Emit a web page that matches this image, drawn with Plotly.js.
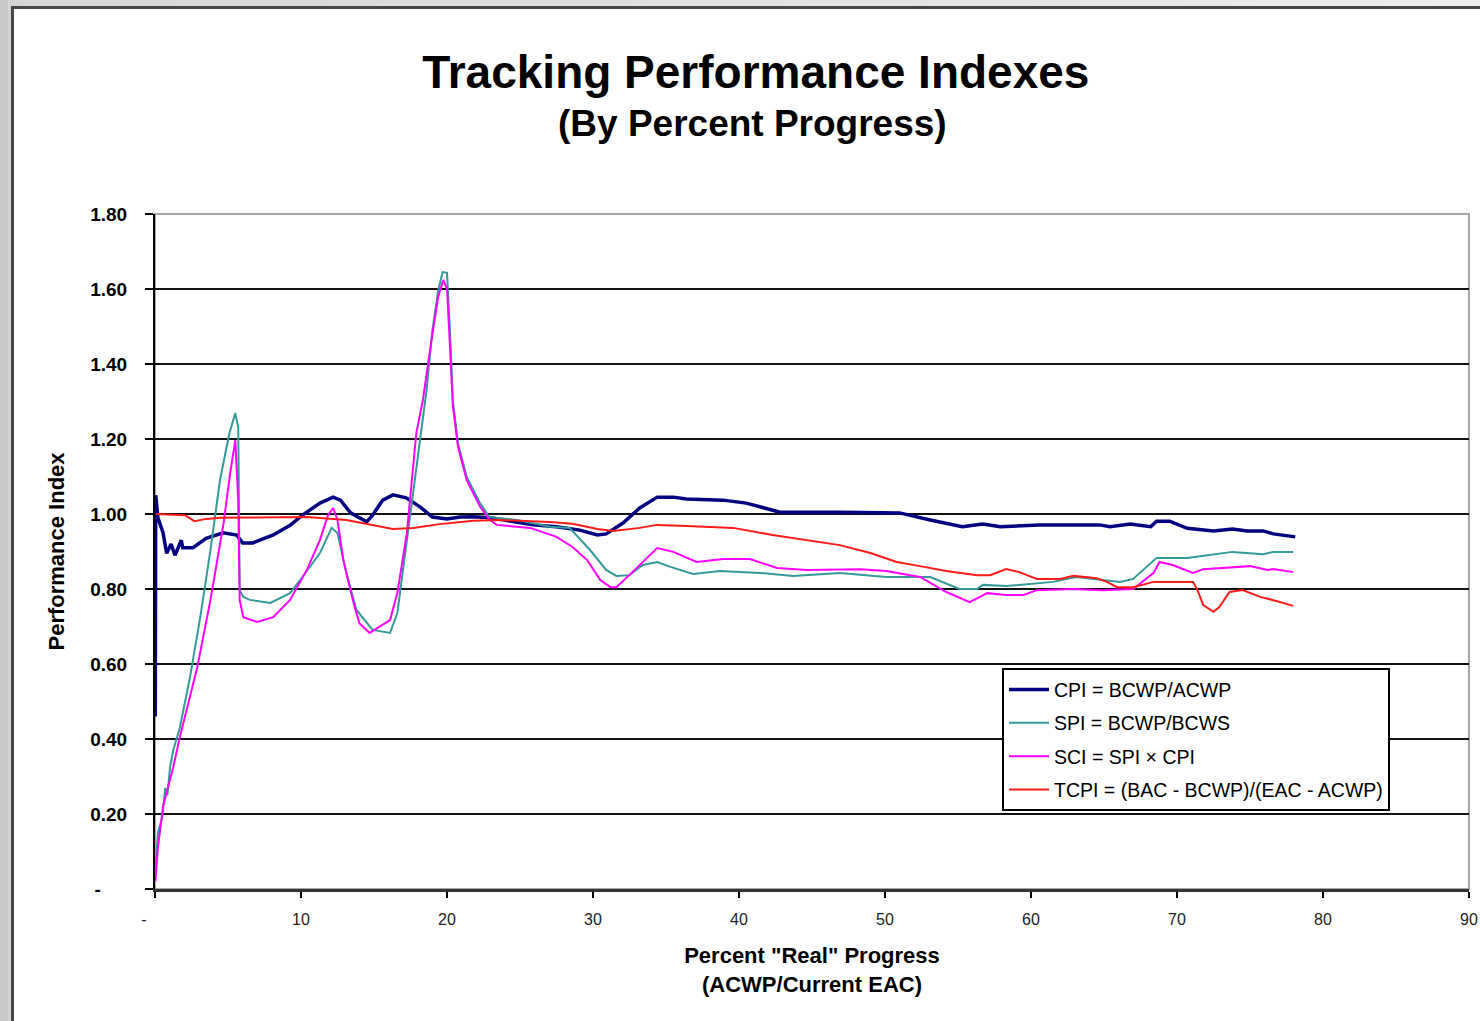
<!DOCTYPE html>
<html>
<head>
<meta charset="utf-8">
<script src="https://cdn.plot.ly/plotly-3.0.1.min.js"></script>
<style>
  html, body { margin: 0; padding: 0; width: 1480px; height: 1021px; overflow: hidden; }
  body { background: #c9c9c9; position: relative; }
  #topstrip { position: absolute; left: 8px; top: 0; width: 1472px; height: 1021px;
              background: linear-gradient(to right, #d4d4d4, #eeeeee); }
  #frame { position: absolute; left: 11px; top: 6px; width: 1469px; height: 1015px;
           border-left: 3px solid #474747; border-top: 3px solid #474747; background: #fff; }
  #chart { position: absolute; left: 0; top: 0; width: 1466px; height: 1012px; }
</style>
</head>
<body>
<div id="topstrip"></div>
<div id="frame"><div id="chart"></div></div>
<script>
// Percent "real" progress (ACWP / current EAC) and the four indexes
const cpiX = [0.02, 0.05, 0.2, 0.55, 0.8, 1.1, 1.37, 1.8, 1.9, 2.6, 3.5, 4.67, 5.6, 6.0, 6.7, 8.1, 9.25, 10.1, 11.3, 12.2, 12.7, 13.4, 14.5, 14.9, 15.6, 16.3, 17.2, 18.15, 19.0, 20.0, 20.9, 21.8, 23.0, 25.9, 27.5, 29.1, 30.3, 30.9, 32.05, 33.2, 34.4, 35.5, 36.4, 38.9, 40.5, 42.3, 42.8, 46.9, 49.9, 51.0, 53.1, 55.3, 56.7, 57.9, 60.6, 64.7, 65.4, 66.8, 68.2, 68.6, 69.5, 70.7, 72.5, 73.8, 74.8, 75.9, 76.6, 78.1];
const cpiY = [0.46, 1.05, 0.99, 0.95, 0.895, 0.92, 0.89, 0.93, 0.91, 0.91, 0.935, 0.95, 0.944, 0.923, 0.923, 0.944, 0.97, 0.997, 1.029, 1.045, 1.037, 1.003, 0.979, 0.997, 1.037, 1.051, 1.043, 1.019, 0.992, 0.987, 0.992, 0.993, 0.99, 0.971, 0.966, 0.957, 0.944, 0.947, 0.976, 1.016, 1.045, 1.045, 1.04, 1.037, 1.029, 1.011, 1.005, 1.005, 1.005, 1.003, 0.984, 0.966, 0.973, 0.966, 0.971, 0.971, 0.966, 0.973, 0.966, 0.981, 0.981, 0.962, 0.955, 0.96, 0.955, 0.955, 0.947, 0.939];

const spiX = [0.02, 0.2, 0.5, 0.7, 0.85, 1.03, 1.25, 1.7, 2.4, 3.1, 3.8, 4.45, 5.1, 5.5, 5.7, 5.8, 6.05, 6.5, 7.9, 9.25, 10.1, 11.3, 12.1, 12.5, 13.1, 13.8, 14.9, 16.1, 16.6, 17.25, 17.9, 18.15, 18.6, 19.0, 19.4, 19.7, 20.0, 20.2, 20.4, 20.75, 21.35, 22.26, 22.9, 24.8, 27.05, 28.4, 29.8, 30.9, 31.6, 32.5, 33.4, 34.4, 35.3, 36.85, 38.7, 41.4, 43.7, 46.9, 50.1, 53.1, 55.1, 56.3, 56.7, 58.3, 61.5, 63.1, 65.2, 66.1, 67.0, 68.6, 70.7, 71.6, 73.8, 75.9, 76.6, 77.95];
const spiY = [0.04, 0.15, 0.19, 0.27, 0.25, 0.325, 0.37, 0.43, 0.565, 0.725, 0.904, 1.09, 1.216, 1.269, 1.232, 0.797, 0.779, 0.771, 0.763, 0.789, 0.832, 0.896, 0.963, 0.949, 0.843, 0.744, 0.691, 0.683, 0.736, 0.931, 1.125, 1.205, 1.33, 1.49, 1.597, 1.645, 1.643, 1.491, 1.304, 1.189, 1.099, 1.029, 0.992, 0.984, 0.966, 0.963, 0.904, 0.851, 0.835, 0.837, 0.864, 0.872, 0.859, 0.84, 0.848, 0.843, 0.835, 0.843, 0.832, 0.832, 0.8, 0.8, 0.811, 0.808, 0.819, 0.832, 0.824, 0.819, 0.827, 0.883, 0.883, 0.888, 0.899, 0.893, 0.899, 0.899];

const sciX = [0.02, 0.2, 0.55, 1.25, 1.7, 2.9, 3.8, 4.7, 5.15, 5.5, 5.7, 5.8, 6.05, 7.0, 8.1, 9.25, 10.4, 11.3, 11.85, 12.2, 12.5, 12.9, 13.6, 14.0, 14.7, 16.1, 16.6, 17.25, 17.9, 18.35, 19.0, 19.4, 19.75, 20.0, 20.2, 20.4, 20.75, 21.35, 22.26, 22.9, 23.4, 25.7, 27.5, 28.6, 29.6, 30.5, 31.2, 31.6, 32.7, 34.4, 35.5, 37.1, 38.9, 40.75, 42.6, 44.65, 48.3, 50.1, 52.4, 54.2, 55.8, 57.0, 58.3, 59.5, 60.4, 62.9, 64.9, 67.0, 68.4, 68.8, 69.7, 71.1, 71.8, 73.8, 75.0, 76.2, 76.6, 77.95];
const sciY = [0.02, 0.11, 0.22, 0.325, 0.405, 0.592, 0.771, 0.976, 1.109, 1.197, 1.037, 0.771, 0.725, 0.712, 0.725, 0.771, 0.851, 0.931, 0.997, 1.016, 0.984, 0.877, 0.763, 0.709, 0.683, 0.717, 0.789, 0.949, 1.216, 1.304, 1.48, 1.58, 1.624, 1.6, 1.45, 1.29, 1.18, 1.09, 1.02, 0.985, 0.971, 0.963, 0.939, 0.912, 0.877, 0.824, 0.805, 0.805, 0.845, 0.909, 0.899, 0.872, 0.88, 0.88, 0.856, 0.851, 0.853, 0.848, 0.832, 0.792, 0.765, 0.789, 0.784, 0.784, 0.797, 0.8, 0.797, 0.8, 0.843, 0.872, 0.864, 0.843, 0.853, 0.859, 0.861, 0.851, 0.853, 0.845];

const tcpiX = [0.05, 2.05, 2.7, 3.5, 4.45, 10.4, 13.1, 14.9, 16.3, 17.7, 19.5, 21.8, 23.6, 27.05, 28.6, 30.3, 31.4, 33.2, 34.4, 36.4, 39.6, 42.3, 44.65, 46.9, 49.0, 50.8, 52.4, 54.2, 56.3, 57.2, 58.3, 59.2, 60.4, 62.0, 62.9, 64.5, 65.2, 65.9, 67.0, 68.4, 71.1, 71.4, 71.8, 72.5, 72.9, 73.6, 74.5, 75.7, 76.8, 77.95];
const tcpiY = [1.0, 0.997, 0.981, 0.987, 0.99, 0.992, 0.984, 0.971, 0.96, 0.963, 0.973, 0.982, 0.984, 0.979, 0.974, 0.96, 0.955, 0.963, 0.971, 0.968, 0.963, 0.944, 0.931, 0.917, 0.896, 0.872, 0.861, 0.848, 0.837, 0.837, 0.853, 0.845, 0.827, 0.827, 0.835, 0.829, 0.819, 0.805, 0.805, 0.819, 0.819, 0.797, 0.757, 0.739, 0.752, 0.792, 0.797, 0.779, 0.768, 0.755];

const seriesNames = ['CPI = BCWP/ACWP', 'SPI = BCWP/BCWS', 'SCI = SPI \u00d7 CPI', 'TCPI = (BAC - BCWP)/(EAC - ACWP)'];

const yTickVals = [0, 0.2, 0.4, 0.6, 0.8, 1.0, 1.2, 1.4, 1.6, 1.8];
const yTickText = ['-\u00a0\u00a0\u00a0\u00a0\u00a0', '0.20', '0.40', '0.60', '0.80', '1.00', '1.20', '1.40', '1.60', '1.80'];
const xTickVals = [0, 10, 20, 30, 40, 50, 60, 70, 80, 90];
const xTickText = ['-\u00a0\u00a0\u00a0\u00a0\u00a0', '10', '20', '30', '40', '50', '60', '70', '80', '90'];

const FONT = 'Arial, "Liberation Sans", sans-serif';

const traces = [
  { x: cpiX, y: cpiY, name: seriesNames[0], legendgroup: 'a', mode: 'lines',
    line: { color: '#000080', width: 3.5 } },
  { x: spiX, y: spiY, name: seriesNames[1], legendgroup: 'b', mode: 'lines',
    line: { color: '#339999', width: 2 } },
  { x: sciX, y: sciY, name: seriesNames[2], legendgroup: 'c', mode: 'lines',
    line: { color: '#ff00ff', width: 2 } },
  { x: tcpiX, y: tcpiY, name: seriesNames[3], legendgroup: 'd', mode: 'lines',
    line: { color: '#ff1a1a', width: 2 } }
];

const layout = {
  width: 1466, height: 1012,
  margin: { l: 141, r: 11, t: 205, b: 132 },
  paper_bgcolor: '#ffffff', plot_bgcolor: '#ffffff',
  font: { family: FONT, color: '#000' },
  showlegend: true,
  title: {
    text: 'Tracking Performance Indexes',
    font: { family: FONT, size: 46, weight: 'bold', color: '#000' },
    xref: 'container', yref: 'container', x: 0.506, y: 0.954,
    xanchor: 'center', yanchor: 'top'
  },
  annotations: [{
    text: '(By Percent Progress)', showarrow: false,
    xref: 'paper', yref: 'paper', x: 0.4545, y: 1.168,
    xanchor: 'center', yanchor: 'top',
    font: { family: FONT, size: 37, weight: 'bold', color: '#000' }
  }],
  xaxis: {
    range: [0, 90], tickvals: xTickVals, ticktext: xTickText,
    ticks: 'outside', ticklen: 6, tickwidth: 1.5, tickcolor: '#000',
    ticklabelstandoff: 8,
    tickfont: { family: FONT, size: 16, color: '#222' },
    showgrid: false, zeroline: false,
    showline: true, linecolor: '#333', linewidth: 3,
    title: {
      text: 'Percent "Real" Progress<br>(ACWP/Current EAC)',
      font: { family: FONT, size: 22, weight: 'bold', color: '#000' },
      standoff: 21
    },
    fixedrange: true
  },
  yaxis: {
    range: [0, 1.8], tickvals: yTickVals, ticktext: yTickText,
    ticks: 'outside', ticklen: 8, tickwidth: 1.5, tickcolor: '#000',
    ticklabelstandoff: 14,
    tickfont: { family: FONT, size: 19, weight: 'bold', color: '#000' },
    showgrid: true, gridcolor: '#111', gridwidth: 2,
    zeroline: false,
    showline: true, linecolor: '#000', linewidth: 2,
    title: {
      text: 'Performance Index',
      font: { family: FONT, size: 22, weight: 'bold', color: '#000' },
      standoff: 20
    },
    fixedrange: true
  },
  shapes: [{
    type: 'rect', xref: 'paper', yref: 'paper', x0: 0, x1: 1, y0: 0, y1: 1,
    line: { color: '#a6a6a6', width: 2 }, layer: 'below'
  }],
  legend: {
    x: 0.6446, y: 0.327, xanchor: 'left', yanchor: 'top',
    bgcolor: '#ffffff', bordercolor: '#000', borderwidth: 2,
    font: { family: FONT, size: 19.5, color: '#000' },
    traceorder: 'grouped', tracegroupgap: 5,
    itemwidth: 40
  }
};

Plotly.newPlot('chart', traces, layout, { displayModeBar: false, staticPlot: true });
</script>
</body>
</html>
